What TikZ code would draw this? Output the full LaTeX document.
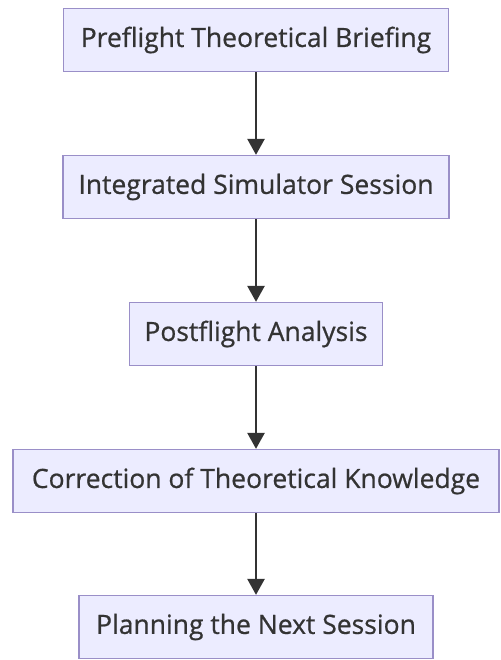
\documentclass[tikz,border=0pt]{standalone}
\usepackage{fontspec}
\setmainfont{Open Sans}
\newfontfamily\boxfont{Open Sans}[FakeBold=0.7]
\usetikzlibrary{arrows.meta}
\definecolor{boxfill}{HTML}{ECECFF}
\definecolor{boxline}{HTML}{9A8FC8}
\definecolor{ink}{HTML}{333333}
\begin{document}
\begin{tikzpicture}[x=1pt,y=-1pt,
  stepbox/.style={draw=boxline, fill=boxfill, line width=1.3pt, minimum height=63pt, inner sep=0pt, text=ink, font=\boxfont\fontsize{26.5}{30}\selectfont},
  flow/.style={draw=ink, line width=2.6pt, -{Triangle[width=17pt,length=16pt]}}]
\useasboundingbox (0,0) rectangle (500,660);
\fill[white] (0,0) rectangle (500,660);
\node[stepbox, minimum width=385pt] (a) at (256,40) {Preflight Theoretical Briefing};
\node[stepbox, minimum width=386pt] (b) at (256,187) {Integrated Simulator Session};
\node[stepbox, minimum width=253pt] (c) at (256,334) {Postflight Analysis};
\node[stepbox, minimum width=486pt] (d) at (256,481) {Correction of Theoretical Knowledge};
\node[stepbox, minimum width=354pt] (e) at (256,627) {Planning the Next Session};
\draw[flow] (a) -- (b);
\draw[flow] (b) -- (c);
\draw[flow] (c) -- (d);
\draw[flow] (d) -- (e);
\end{tikzpicture}
\end{document}
